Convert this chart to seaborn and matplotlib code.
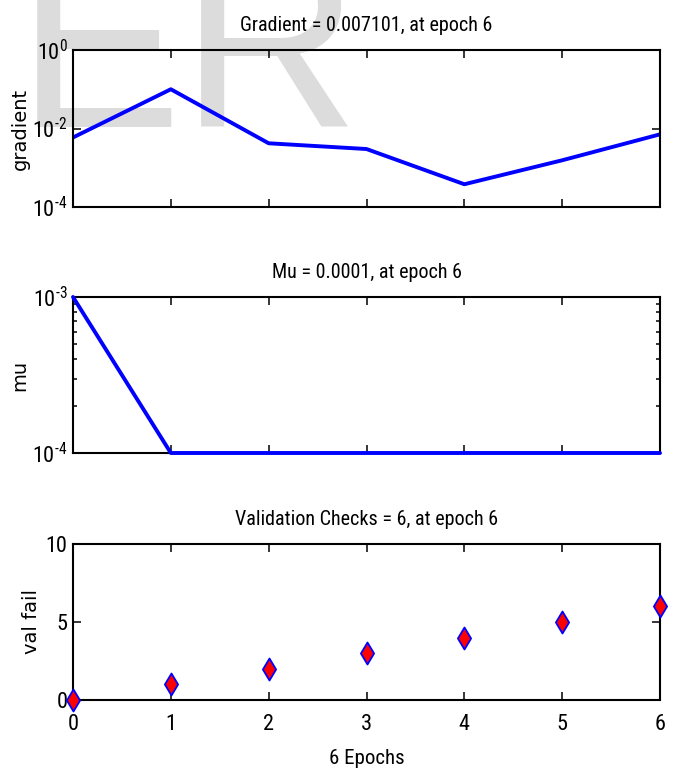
#!/usr/bin/env python3
"""Neural network training state plot (gradient, mu, validation checks)."""

import matplotlib

matplotlib.use("Agg")
import matplotlib.pyplot as plt
import matplotlib.ticker as ticker
import seaborn as sns

# Data
epochs = [0, 1, 2, 3, 4, 5, 6]
gradient = [0.0059, 0.10, 0.0042, 0.0030, 0.00038, 0.00155, 0.007101]
mu = [1e-3, 1e-4, 1e-4, 1e-4, 1e-4, 1e-4, 1e-4]
val_fail = [0, 1, 2, 3, 4, 5, 6]

titles = [
    "Gradient = 0.007101, at epoch 6",
    "Mu = 0.0001, at epoch 6",
    "Validation Checks = 6, at epoch 6",
]
ylabels = ["gradient", "mu", "val fail"]
xlabel = "6 Epochs"
grad_ticks = [1e-4, 1e-2, 1e0]
grad_ticklabels = [r"$10^{\text{-4}}$", r"$10^{\text{-2}}$", r"$10^{0}$"]
mu_ticks = [1e-4, 1e-3]
mu_ticklabels = [r"$10^{\text{-4}}$", r"$10^{\text{-3}}$"]
val_ticks = [0, 5, 10]

FONT = ["Roboto Condensed", "Liberation Sans"]
BLUE = "#0000FF"
RED = "#FF0000"

sns.set_theme(style="white")
plt.rcParams["font.family"] = FONT
plt.rcParams["mathtext.fontset"] = "custom"
plt.rcParams["mathtext.rm"] = "Roboto Condensed"
plt.rcParams["mathtext.it"] = "Roboto Condensed"
plt.rcParams["axes.unicode_minus"] = False

W, H = 675, 772
fig = plt.figure(figsize=(W / 100, H / 100), dpi=100)

# light grey watermark behind everything
fig.text(17 / W, 1 - 127 / H, "ER", fontsize=178, color="#DCDCDC",
         family="Liberation Sans", va="baseline", ha="left", zorder=-10)

left, width = 73 / W, 587 / W
boxes = [(50, 207), (297, 453), (544, 700)]
axes = []
for top, bottom in boxes:
    ax = fig.add_axes([left, 1 - bottom / H, width, (bottom - top) / H])
    ax.patch.set_alpha(0)
    axes.append(ax)

# gradient panel
ax = axes[0]
sns.lineplot(x=epochs, y=gradient, ax=ax, color=BLUE, linewidth=2.8)
ax.set_yscale("log")
ax.set_ylim(1e-4, 1e0)
ax.set_yticks(grad_ticks, grad_ticklabels)
ax.yaxis.set_minor_locator(ticker.NullLocator())

# mu panel
ax = axes[1]
sns.lineplot(x=epochs, y=mu, ax=ax, color=BLUE, linewidth=2.8)
for ln in ax.lines:
    ln.set_clip_on(False)
    ln.set_zorder(5)
ax.set_yscale("log")
ax.set_ylim(1e-4, 1e-3)
ax.set_yticks(mu_ticks, mu_ticklabels)
ax.yaxis.set_minor_locator(ticker.LogLocator(base=10, subs=range(2, 10)))
ax.yaxis.set_minor_formatter(ticker.NullFormatter())

# validation checks panel
ax = axes[2]
sns.scatterplot(x=epochs, y=val_fail, ax=ax, marker="d", s=125,
                color=RED, edgecolor=BLUE, linewidth=1.3, clip_on=False,
                zorder=5)
ax.set_ylim(0, 10)
ax.set_yticks(val_ticks)

label_x = [-0.073, -0.074, -0.054]
for i, ax in enumerate(axes):
    ax.set_xlim(0, 6)
    ax.set_xticks(epochs)
    for s in ax.spines.values():
        s.set_linewidth(1.5)
        s.set_color("black")
        s.set_visible(True)
    ax.tick_params(which="both", direction="in", top=True, right=True,
                   left=True, bottom=True, width=1.1, color="black",
                   labelsize=16, labelcolor="black")
    ax.tick_params(which="major", length=5.5)
    ax.tick_params(which="minor", length=3)
    ax.tick_params(axis="y", pad=4)
    ax.tick_params(axis="x", pad=10)
    if i < 2:
        ax.tick_params(axis="x", labelbottom=False)
    ax.set_title(titles[i], fontsize=14.5, pad=14, color="black")
    ax.set_ylabel(ylabels[i], fontsize=14, family="DejaVu Sans",
                  color="black")
    ax.yaxis.set_label_coords(label_x[i], 0.5)
    ax.grid(False)

axes[2].set_xlabel(xlabel, fontsize=15, labelpad=10, color="black")

fig.savefig("out.png", dpi=100)
